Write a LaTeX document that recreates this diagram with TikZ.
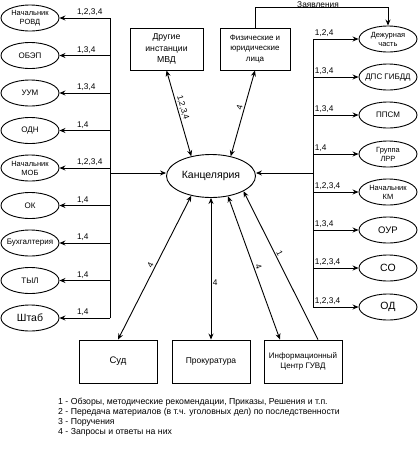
\documentclass[tikz,border=0pt]{standalone}
\usepackage{fontspec}
\setmainfont{Liberation Sans}
\usetikzlibrary{arrows.meta, shapes.geometric}

\begin{document}
\begin{tikzpicture}[x=1pt, y=-1pt,
	dept/.style={ellipse, draw, line width=0.9pt, minimum width=58pt, minimum height=26pt,
		inner xsep=-4pt, inner ysep=0pt, align=center, font=\fontsize{8}{9}\selectfont},
	organ/.style={rectangle, draw, line width=0.9pt, align=center},
	arr/.style={-{Stealth[length=6pt,width=5pt]}, line width=0.9pt},
	dblarr/.style={{Stealth[length=6pt,width=5pt]}-{Stealth[length=6pt,width=5pt]}, line width=0.9pt},
	codes/.style={font=\fontsize{8.3}{9}\selectfont, inner sep=1.5pt}]
	\useasboundingbox (0,0) rectangle (418,451);

	%centre
	\node[ellipse, draw, line width=0.9pt, minimum width=89pt, minimum height=43pt, inner sep=0pt,
		font=\fontsize{10.5}{12}\selectfont] (kanc) at (211,176) {Канцелярия};
	\coordinate (busL) at (110,173);
	\coordinate (busR) at (313,173);

	%left column
	\node[dept, font=\fontsize{7.5}{9}\selectfont] (rovd) at (30,18) {Начальник\\РОВД};
	\node[dept] (obep)  at (30,55.5)  {ОБЭП};
	\node[dept] (uum)   at (30,93)    {УУМ};
	\node[dept] (odn)   at (30,130.5) {ОДН};
	\node[dept, font=\fontsize{7.5}{9}\selectfont] (mob) at (30,168) {Начальник\\МОБ};
	\node[dept] (ok)    at (30,205.5) {ОК};
	\node[dept] (buh)   at (30,243)   {Бухгалтерия};
	\node[dept] (tyl)   at (30,280.5) {ТЫЛ};
	\node[dept, font=\fontsize{10.5}{12}\selectfont] (shtab) at (30,318) {Штаб};

	%right column
	\node[dept, font=\fontsize{7.5}{9}\selectfont] (dezh) at (388,39) {Дежурная\\часть};
	\node[dept] (dps)  at (388,77)  {ДПС ГИБДД};
	\node[dept] (ppsm) at (388,115) {ППСМ};
	\node[dept, font=\fontsize{7.5}{9}\selectfont] (lrr) at (388,154) {Группа\\ЛРР};
	\node[dept, font=\fontsize{7.5}{9}\selectfont] (km)  at (388,192) {Начальник\\КМ};
	\node[dept, font=\fontsize{9.5}{11}\selectfont]  (our) at (388,230) {ОУР};
	\node[dept, font=\fontsize{10.5}{12}\selectfont] (so)  at (388,268) {СО};
	\node[dept, font=\fontsize{10.5}{12}\selectfont] (od)  at (388,307) {ОД};

	%top boxes
	\node[organ, minimum width=73pt, minimum height=42pt, font=\fontsize{8.7}{11.5}\selectfont]
		(drugie) at (166.5,49) {Другие\\инстанции\\МВД};
	\node[organ, minimum width=70pt, minimum height=42pt, font=\fontsize{8}{10.5}\selectfont]
		(fiz) at (255,49) {Физические и\\юридические\\лица};

	%bottom boxes
	\node[organ, minimum width=78pt, minimum height=43pt, font=\fontsize{9.5}{11}\selectfont]
		(sud) at (118,361.5) {Суд};
	\node[organ, minimum width=78pt, minimum height=43pt, font=\fontsize{8.5}{10}\selectfont]
		(prok) at (211,361.5) {Прокуратура};
	\node[organ, minimum width=78pt, minimum height=43pt, font=\fontsize{8}{10}\selectfont]
		(inf) at (303,361.5) {Информационный\\Центр ГУВД};

	%left bus
	\draw[line width=0.9pt] (rovd -| busL) -- (shtab -| busL);
	\draw[arr] (busL) -- (busL -| kanc.west);
	\draw[arr] (rovd -| busL)  -- node[codes, pos=0.69, above right] {1,2,3,4} (rovd.east);
	\draw[arr] (obep -| busL)  -- node[codes, pos=0.69, above right] {1,3,4}   (obep.east);
	\draw[arr] (uum -| busL)   -- node[codes, pos=0.69, above right] {1,3,4}   (uum.east);
	\draw[arr] (odn -| busL)   -- node[codes, pos=0.69, above right] {1,4}     (odn.east);
	\draw[arr] (mob -| busL)   -- node[codes, pos=0.69, above right] {1,2,3,4} (mob.east);
	\draw[arr] (ok -| busL)    -- node[codes, pos=0.69, above right] {1,4}     (ok.east);
	\draw[arr] (buh -| busL)   -- node[codes, pos=0.69, above right] {1,4}     (buh.east);
	\draw[arr] (tyl -| busL)   -- node[codes, pos=0.69, above right] {1,4}     (tyl.east);
	\draw[arr] (shtab -| busL) -- node[codes, pos=0.69, above right] {1,4}     (shtab.east);

	%right bus
	\draw[line width=0.9pt] (dezh -| busR) -- (od -| busR);
	\draw[arr] (busR) -- (busR -| kanc.east);
	\draw[arr] (dezh -| busR) -- node[codes, pos=0, above right] {1,2,4}   (dezh.west);
	\draw[arr] (dps -| busR)  -- node[codes, pos=0, above right] {1,3,4}   (dps.west);
	\draw[arr] (ppsm -| busR) -- node[codes, pos=0, above right] {1,3,4}   (ppsm.west);
	\draw[arr] (lrr -| busR)  -- node[codes, pos=0, above right] {1,4}     (lrr.west);
	\draw[arr] (km -| busR)   -- node[codes, pos=0, above right] {1,2,3,4} (km.west);
	\draw[arr] (our -| busR)  -- node[codes, pos=0, above right] {1,3,4}   (our.west);
	\draw[arr] (so -| busR)   -- node[codes, pos=0, above right] {1,2,3,4} (so.west);
	\draw[arr] (od -| busR)   -- node[codes, pos=0, above right] {1,2,3,4} (od.west);

	%top links
	\draw[arr] (fiz.north) -- ++(0,-20) -| (dezh.north);
	\node[codes, inner sep=0pt] (zajtxt) at (318,4.5) {Заявления};
	\draw[dblarr] (drugie.south) -- node[codes, sloped, above, pos=0.45] {1,2,3,4} (kanc.135);
	\draw[dblarr] (fiz.south) -- node[codes, sloped, above, pos=0.45] {4} (kanc.45);

	%bottom links
	\draw[dblarr] (sud.north) -- node[codes, sloped, above, pos=0.5] {4} (kanc.225);
	\draw[dblarr] (prok.north) -- node[codes, right, pos=0.4] {4} (kanc.south);
	\draw[dblarr] ([xshift=-23pt]inf.north) -- node[codes, sloped, above, pos=0.5] {4} (kanc.310);
	\draw[arr] ([xshift=15pt]inf.north) -- node[codes, sloped, above, pos=0.57] {1} (kanc.335);

	%legend
	\node[anchor=north west, align=left, inner sep=0pt, font=\fontsize{8.7}{10}\selectfont] (legend) at (58,398)
		{1 - Обзоры, методические рекомендации, Приказы, Решения и т.п.\\
		2 - Передача материалов (в т.ч. уголовных дел) по последственности\\
		3 - Поручения\\
		4 - Запросы и ответы на них};
\end{tikzpicture}
\end{document}
